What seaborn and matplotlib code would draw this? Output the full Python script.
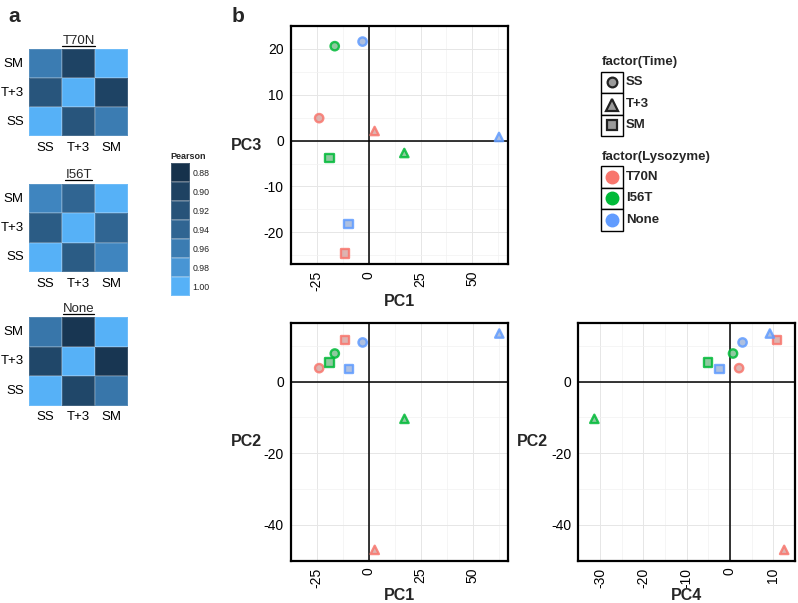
import numpy as np
import pandas as pd
import matplotlib
matplotlib.use("Agg")
import matplotlib.pyplot as plt
import seaborn as sns
from matplotlib.colors import LinearSegmentedColormap
from matplotlib.lines import Line2D
from matplotlib.patches import Rectangle

# ---------------- data ----------------
time_levels = ["SS", "T+3", "SM"]
heat_rows = ["SM", "T+3", "SS"]
heat_cols = ["SS", "T+3", "SM"]
heat_titles = ["T70N", "I56T", "None"]
# rows: SM, T+3, SS ; cols: SS, T+3, SM
corr_T70N = [[0.960, 0.902, 1.000],
             [0.922, 1.000, 0.902],
             [1.000, 0.922, 0.960]]
corr_I56T = [[0.968, 0.940, 1.000],
             [0.930, 1.000, 0.940],
             [1.000, 0.930, 0.968]]
corr_None = [[0.955, 0.886, 1.000],
             [0.906, 1.000, 0.886],
             [1.000, 0.906, 0.955]]
cbar_values = [0.88, 0.90, 0.92, 0.94, 0.96, 0.98, 1.00]
cbar_labels = ["0.88", "0.90", "0.92", "0.94", "0.96", "0.98", "1.00"]

lysozyme = ["T70N", "T70N", "T70N", "I56T", "I56T", "I56T", "None", "None", "None"]
time = ["SS", "T+3", "SM", "SS", "T+3", "SM", "SS", "T+3", "SM"]
PC1 = [-23.8, 2.9, -11.5, -16.3, 17.2, -18.8, -2.9, 62.8, -9.6]
PC2 = [3.8, -47.1, 11.7, 7.9, -10.4, 5.4, 11.0, 13.5, 3.5]
PC3 = [4.9, 2.1, -24.6, 20.6, -2.7, -3.8, 21.6, 0.8, -18.2]
PC4 = [2.1, 12.5, 10.9, 0.7, -31.3, -5.1, 2.9, 9.2, -2.4]

lys_levels = ["T70N", "I56T", "None"]
lys_colors = ["#F8766D", "#00BA38", "#619CFF"]
time_markers = {"SS": "o", "T+3": "^", "SM": "s"}

df = pd.DataFrame({"Lysozyme": lysozyme, "Time": time,
                   "PC1": PC1, "PC2": PC2, "PC3": PC3, "PC4": PC4})

# ---------------- style ----------------
sns.set_style("white")
plt.rcParams["font.family"] = ["Liberation Sans", "DejaVu Sans"]
plt.rcParams["axes.unicode_minus"] = False

W, H = 798, 603
fig = plt.figure(figsize=(W / 100, H / 100), dpi=100)


def px_axes(x0, y0, x1, y1):
    return fig.add_axes([x0 / W, 1 - y1 / H, (x1 - x0) / W, (y1 - y0) / H])


# approximate ggplot's Lab gradient #132B43 -> #56B1F7
cmap = LinearSegmentedColormap.from_list(
    "gg", [(0.0, "#132B43"), (0.25, "#1F4566"), (0.5, "#2E618C"),
           (0.75, "#3F85BF"), (1.0, "#56B1F7")])
VMIN, VMAX = 0.872, 1.0

# ---------------- heatmaps ----------------
heat_boxes = [(29.3, 49.3, 128, 136), (29.3, 184, 128, 272), (29.3, 317.3, 128, 405.7)]
titles_artists = []
for mat, title, box in zip([corr_T70N, corr_I56T, corr_None], heat_titles, heat_boxes):
    ax = px_axes(*box)
    hdf = pd.DataFrame(mat, index=heat_rows, columns=heat_cols)
    sns.heatmap(hdf, ax=ax, cmap=cmap, vmin=VMIN, vmax=VMAX, cbar=False,
                linewidths=0.3, linecolor=(1, 1, 1, 0.15))
    ax.tick_params(axis="both", length=0, labelsize=9.5, colors="black", pad=4)
    ax.set_yticklabels(heat_rows, rotation=0)
    ax.set_xticklabels(heat_cols, rotation=0)
    ax.set_xlabel("")
    ax.set_ylabel("")
    t = ax.set_title(title, fontsize=9.5, pad=4)
    titles_artists.append(t)

# colour key
axc = px_axes(170.7, 163.3, 190, 296)
cdf = pd.DataFrame({"v": cbar_values}, index=cbar_labels)
sns.heatmap(cdf, ax=axc, cmap=cmap, vmin=VMIN, vmax=VMAX, cbar=False,
            linewidths=0.3, linecolor=(1, 1, 1, 0.2))
axc.yaxis.tick_right()
axc.set_yticklabels(cbar_labels, rotation=0)
axc.set_xticks([])
axc.set_xlabel("")
axc.set_ylabel("")
axc.tick_params(axis="y", length=0, labelsize=6.3, colors="#222222", pad=2)
axc.set_title("Pearson", fontsize=6.5, fontweight="bold", loc="left", pad=3)

# ---------------- PCA scatter panels ----------------
def lims(v):
    v = np.asarray(v)
    r = v.max() - v.min()
    return v.min() - 0.05 * r, v.max() + 0.05 * r


def pca_panel(box, xcol, ycol, xticks, yticks):
    ax = px_axes(*box)
    sns.scatterplot(data=df, x=xcol, y=ycol, hue="Lysozyme", style="Time",
                    hue_order=lys_levels, style_order=time_levels,
                    palette=lys_colors, markers=time_markers, s=36,
                    legend=False, ax=ax, zorder=5)
    coll = ax.collections[-1]
    fcs = coll.get_facecolors()
    new_face = []
    new_edge = []
    for c in fcs:
        rgb = np.array(c[:3])
        new_edge.append((*rgb, 0.85))
        mix = 0.4 * rgb + 0.6 * np.array([0.75, 0.75, 0.75])
        new_face.append((*mix, 0.8))
    coll.set_facecolors(new_face)
    coll.set_edgecolors(new_edge)
    coll.set_linewidths(1.7)

    ax.set_xlim(*lims(df[xcol]))
    ax.set_ylim(*lims(df[ycol]))
    ax.set_xticks(xticks)
    ax.set_yticks(yticks)
    dx = xticks[1] - xticks[0]
    dy = yticks[1] - yticks[0]
    xm = [xticks[0] - dx / 2] + [t + dx / 2 for t in xticks]
    ym = [yticks[0] - dy / 2] + [t + dy / 2 for t in yticks]
    ax.set_xticks(xm, minor=True)
    ax.set_yticks(ym, minor=True)
    ax.grid(True, which="major", color="#e6e6e6", linewidth=0.7, zorder=0)
    ax.grid(True, which="minor", color="#f2f2f2", linewidth=0.5, zorder=0)
    ax.tick_params(axis="both", which="minor", length=0)
    ax.tick_params(axis="both", which="major", length=3, width=0.8, color="#333333",
                   labelsize=10, labelcolor="black", pad=2)
    ax.tick_params(axis="x", labelrotation=90)
    ax.axhline(0, color="black", linewidth=1.1, zorder=2)
    ax.axvline(0, color="black", linewidth=1.1, zorder=2)
    for sp in ax.spines.values():
        sp.set_visible(True)
        sp.set_color("black")
        sp.set_linewidth(1.6)
    ax.set_xlabel(xcol, fontsize=11.5, fontweight="bold")
    ax.set_ylabel(ycol, fontsize=11.5, fontweight="bold", rotation=0,
                  ha="right", va="center")
    return ax, box[2] - box[0], box[3] - box[1]


ax1, bw, bh = pca_panel((290.7, 26, 508, 264), "PC1", "PC3",
                        [-25, 0, 25, 50], [-20, -10, 0, 10, 20])
ax1.yaxis.set_label_coords(-29 / bw, 0.5)
ax1.xaxis.set_label_coords(0.5, -37 / bh)
ax1.xaxis.label.set_va("center")

ax2, bw, bh = pca_panel((290.7, 322.7, 508.3, 560.7), "PC1", "PC2",
                        [-25, 0, 25, 50], [-40, -20, 0])
ax2.yaxis.set_label_coords(-29 / bw, 0.5)
ax2.xaxis.set_label_coords(0.5, -35 / bh)
ax2.xaxis.label.set_va("center")

ax3, bw, bh = pca_panel((578.3, 322.7, 795, 560.7), "PC4", "PC2",
                        [-30, -20, -10, 0, 10], [-40, -20, 0])
ax3.yaxis.set_label_coords(-30 / bw, 0.5)
ax3.xaxis.set_label_coords(0.5, -35 / bh)
ax3.xaxis.label.set_va("center")

# ---------------- legends (drawn in a pixel-unit axes) ----------------
axl = px_axes(595, 45, 740, 240)
axl.set_xlim(595, 740)
axl.set_ylim(240, 45)
axl.axis("off")

axl.text(601.5, 61.5, "factor(Time)", fontsize=9.5, fontweight="bold",
         va="center", ha="left")
key_h = 21.5
for i, lvl in enumerate(time_levels):
    y0 = 71.5 + i * key_h
    axl.add_patch(Rectangle((601, y0), 22, key_h, facecolor="white",
                            edgecolor="black", linewidth=1.0))
    is_tri = time_markers[lvl] == "^"
    axl.plot([612], [y0 + key_h / 2 + (1 if is_tri else 0)],
             marker=time_markers[lvl], markersize=8.5 if is_tri else 7,
             markerfacecolor="#9a9a9a", markeredgecolor="#222222",
             markeredgewidth=1.6, linestyle="none")
    axl.text(626, y0 + key_h / 2, lvl, fontsize=9.5, fontweight="bold",
             va="center", ha="left")

axl.text(601.5, 156.7, "factor(Lysozyme)", fontsize=9.5, fontweight="bold",
         va="center", ha="left")
for i, (lvl, col) in enumerate(zip(lys_levels, lys_colors)):
    y0 = 166 + i * key_h
    axl.add_patch(Rectangle((601, y0), 22, key_h, facecolor="white",
                            edgecolor="black", linewidth=1.0))
    axl.plot([612], [y0 + key_h / 2], marker="o", markersize=9,
             markerfacecolor=col, markeredgecolor=col, linestyle="none")
    axl.text(626, y0 + key_h / 2, lvl, fontsize=9.5, fontweight="bold",
             va="center", ha="left")

# ---------------- panel letters ----------------
fig.text(8 / W, 1 - 17 / H, "a", fontsize=15, fontweight="bold", va="center", ha="left")
fig.text(232 / W, 1 - 17 / H, "b", fontsize=15, fontweight="bold", va="center", ha="left")

# ---------------- underline heatmap titles ----------------
fig.canvas.draw()
renderer = fig.canvas.get_renderer()
for t in titles_artists:
    bb = t.get_window_extent(renderer=renderer)
    y = bb.y0 + 1.0
    fig.add_artist(Line2D([bb.x0 / W, bb.x1 / W], [y / H, y / H],
                          transform=fig.transFigure, color="black", linewidth=0.9))

fig.savefig("out.png", dpi=100)
